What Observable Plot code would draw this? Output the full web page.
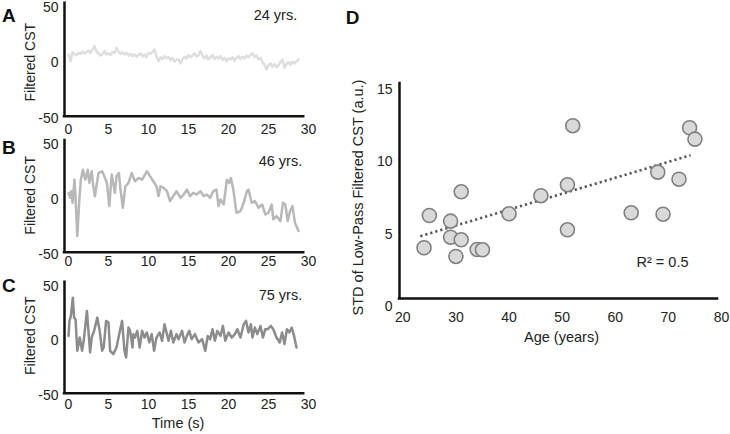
<!DOCTYPE html>
<html><head><meta charset="utf-8">
<script src="https://cdn.jsdelivr.net/npm/d3@7"></script>
<script src="https://cdn.jsdelivr.net/npm/@observablehq/plot@0.6"></script>
<style>
html,body{margin:0;padding:0;background:#fff;}
#fig{position:relative;width:730px;height:434px;overflow:hidden;font-family:"Liberation Sans",Arial,sans-serif;}
#fig svg{position:absolute;overflow:visible;}
</style></head><body><div id="fig"></div>
<script>
// ---------- Panel A-C: filtered CST time series ----------
const timeTicks = [0, 5, 10, 15, 20, 25, 30];
const cstTicks = [-50, 0, 50];
const timeDomain = [-0.5, 29.4];
const cstDomain = [-47.8, 53.5];

// A: 24 yrs (sampled every 0.25 s)
const stepA = 0.25;
const cstA = [7.5,1.5,9.5,8.0,7.0,9.0,8.0,10.0,8.5,9.5,11.0,9.0,12.0,15.0,10.0,8.5,6.5,8.0,10.5,7.5,
  8.5,7.0,9.5,9.0,13.5,10.0,8.0,9.5,7.5,9.0,6.5,8.0,6.0,7.5,5.5,7.0,8.5,6.0,7.5,5.0,
  9.0,8.0,10.0,12.0,6.0,1.5,5.0,3.5,6.0,4.0,5.5,2.5,4.5,1.0,3.0,3.0,-0.5,3.5,5.5,4.0,
  7.0,5.0,6.5,8.5,6.0,7.0,10.5,6.5,4.0,6.5,3.0,5.0,7.0,3.5,5.5,4.0,6.0,2.5,4.5,1.5,
  4.0,3.0,5.0,2.0,4.5,6.0,3.5,5.5,4.0,6.5,5.0,7.0,8.5,5.5,6.5,3.0,4.5,0.5,-1.5,-6.0,
  -2.0,-0.5,-3.5,-1.0,-4.0,-2.0,1.0,3.0,-4.5,-1.0,0.5,-1.5,1.0,-0.5,1.5,3.0];
const timeA = cstA.map((_, i) => i * stepA);

// B: 46 yrs
const timeB = [0,0.2,0.33,0.5,0.75,0.85,1.1,1.33,1.54,1.8,2.1,2.4,2.6,2.9,3.1,3.3,3.75,4.2,4.4,4.8,
  5.1,5.4,5.8,6.0,6.3,6.5,6.8,7.1,7.5,7.9,8.3,8.75,9.2,9.8,10.2,10.6,11.0,11.25,11.5,11.9,
  12.3,12.7,13.1,13.5,14.0,14.4,14.8,15.2,15.6,16.0,16.5,16.9,17.3,17.7,18.1,18.5,18.75,19.0,19.4,19.8,
  20.1,20.3,20.6,21.0,21.5,21.9,22.3,22.5,22.9,23.3,23.75,24.2,24.6,25.0,25.4,25.6,26.0,26.5,26.8,27.1,
  27.4,27.7,28.0,28.3,28.75];
const cstB = [6,1.5,7.5,-3,18,6,-33,-3,18,27,18,27,15,25.6,12,3,24,25.6,22.6,15,
  -6,22.6,6,21,24,9,-7.5,12,15,24,16.5,19.5,18,25.6,21,16.5,12,3,12,10.5,
  7.5,-1.5,3,7.5,1.5,4.5,9,3,6,4.5,7.5,3,4.5,1.5,7.5,9,-6,0,-4.5,18,
  15,19.5,9,-12,-10.5,-3,7.5,9,-3,-1.5,-7.5,-4.5,-13.6,-12,-4.5,-18,-15,-19.6,-3,-4.5,
  -19.6,-10.5,-6,-21,-28.6];

// C: 75 yrs
const timeC = [0,0.12,0.3,0.54,0.7,0.88,1.1,1.4,1.7,1.9,2.3,2.7,2.9,3.2,3.6,3.9,4.2,4.4,4.7,5.0,
  5.2,5.6,6.0,6.25,6.7,7.0,7.2,7.5,7.7,8.0,8.1,8.3,8.6,8.9,9.2,9.5,9.8,10.1,10.4,10.7,
  11.0,11.4,11.7,12.0,12.2,12.5,12.8,13.1,13.5,13.75,14.2,14.5,14.8,15.1,15.4,15.8,16.25,16.7,17.1,17.4,
  17.7,18.0,18.3,18.6,19.0,19.3,19.6,20.0,20.4,20.8,21.1,21.5,21.9,22.2,22.5,22.8,23.0,23.3,23.6,24.0,
  24.3,24.6,24.9,25.3,25.6,26.0,26.4,26.7,27.0,27.3,27.6,27.9,28.2,28.5];
const cstC = [4.5,18.2,22.7,39.4,21.2,19.7,-9.1,3,-9.1,0,27.3,-10.6,3,9.1,21.2,9.1,-9.1,-6.1,18.2,16.7,
  -9.1,-12.1,-6.1,3,18.2,-9.1,-15.2,12.1,9.1,-6.1,6.1,3,9.1,-6.1,9.1,3,7.6,-1.5,6.1,-9.1,
  3,7.6,0,15.2,9.1,0,9.1,-1.5,6.1,1.5,9.1,-1.5,4.5,9.1,1.5,6.1,-1.5,1.5,-9.1,4.5,
  1.5,10.6,0,9.1,4.5,13.6,0,7.6,3,6.1,10.6,3,15.2,18.2,7.6,15.2,3,12.1,6.1,13.6,
  3,10.6,10.6,13.6,10.6,3,-1.5,7.6,-3,10.6,7.6,12.1,4.5,-6.1];

// ---------- Panel D: scatter ----------
const ages = [24,25,29,29,30,31,31,34,35,40,46,51,51,63,69,72,68,52,74,75];
const stdValues = [4.06,6.29,5.90,4.79,3.46,4.61,7.93,3.94,3.92,6.41,7.66,8.42,5.30,6.48,6.38,8.80,9.29,12.50,12.36,11.57];
const fitAges = [23.3, 74.2];
const fitStd = [4.86, 10.46];
const ageTicks = [20, 30, 40, 50, 60, 70, 80];
const stdTicks = [0, 5, 10, 15];
const ageDomain = [19.38, 79.25];
const stdDomain = [0.55, 15.42];

const FONT = "Liberation Sans, Arial, sans-serif";
const fig = document.getElementById("fig");
const fmt = d => String(d);

function place(svg, left, top) {
  svg.style.left = left + "px";
  svg.style.top = top + "px";
  fig.appendChild(svg);
}

function label(str, opts) {
  return Plot.text([str], {text: d => d, textAnchor: "middle", lineAnchor: "middle", fill: "#222", ...opts});
}

function tracePanel(o) {
  const data = o.t.map((t, i) => ({t, v: o.v[i]}));
  return Plot.plot({
    width: 320, height: o.height,
    marginLeft: 64, marginRight: 16.8, marginTop: o.mt, marginBottom: o.mb,
    style: {fontFamily: FONT, fontSize: "14px", color: "#222", background: "transparent", overflow: "visible"},
    x: {domain: timeDomain, label: null},
    y: {domain: cstDomain, label: null},
    marks: [
      Plot.line(data, {x: "t", y: "v", stroke: o.color, strokeWidth: 2.5, strokeLinejoin: "round"}),
      Plot.ruleX([timeDomain[0]], {stroke: "#111", strokeWidth: 2.5, strokeLinecap: "square"}),
      Plot.ruleY([cstDomain[0]], {stroke: "#111", strokeWidth: 2.5, strokeLinecap: "square"}),
      Plot.axisX({ticks: timeTicks, tickSize: 0, tickPadding: o.xpad, tickFormat: fmt, label: null, fontSize: 14}),
      Plot.axisY({ticks: cstTicks, tickSize: 0, tickPadding: 6, tickFormat: fmt, label: null, fontSize: 14}),
      label(o.letter, {frameAnchor: "top-left", dx: -55.7, dy: o.letterDy, fontWeight: "bold", fontSize: 19, fill: "#111"}),
      label(o.age, {frameAnchor: "top-right", textAnchor: "end", dx: o.ageDx, dy: o.ageDy, fontSize: 14.5}),
      label("Filtered CST", {frameAnchor: "left", rotate: -90, dx: -34, dy: o.labDy, fontSize: 14}),
      ...(o.xTitle ? [label(o.xTitle, {frameAnchor: "bottom", dx: -6, dy: 30, fontSize: 14.5})] : [])
    ]
  });
}

place(tracePanel({t: timeA, v: cstA, color: "#dedede", height: 136, mt: 2.7, mb: 20.3, xpad: 8,
  letter: "A", letterDy: 13.1, age: "24 yrs.", ageDx: -6.5, ageDy: 12.3, labDy: 2.5}), 0, 0);
place(tracePanel({t: timeB, v: cstB, color: "#b8b8b8", height: 134, mt: 4, mb: 18.3, xpad: 4,
  letter: "B", letterDy: 7.5, age: "46 yrs.", ageDx: -1.5, ageDy: 20.8, labDy: -1}), 0, 136);
place(tracePanel({t: timeC, v: cstC, color: "#8c8c8c", height: 164, mt: 11.7, mb: 41.3, xpad: 6,
  letter: "C", letterDy: 4, age: "75 yrs.", ageDx: -1.5, ageDy: 13.3, labDy: -2, xTitle: "Time (s)"}), 0, 270);

// Panel D
const pts = ages.map((a, i) => ({age: a, std: stdValues[i]}));
const fit = fitAges.map((a, i) => ({age: a, std: fitStd[i]}));
const plotD = Plot.plot({
  width: 400, height: 360,
  marginLeft: 69, marginRight: 13, marginTop: 83, marginBottom: 62,
  style: {fontFamily: FONT, fontSize: "14px", color: "#222", background: "transparent", overflow: "visible"},
  x: {domain: ageDomain, label: null},
  y: {domain: stdDomain, label: null},
  marks: [
    Plot.line(fit, {x: "age", y: "std", stroke: "#555", strokeWidth: 2.6, strokeDasharray: "2.2,3", strokeLinecap: "butt"}),
    Plot.dot(pts, {x: "age", y: "std", r: 7, fill: "#d9d9d9", stroke: "#808080", strokeWidth: 1.6}),
    Plot.ruleX([ageDomain[0]], {stroke: "#111", strokeWidth: 2.5, strokeLinecap: "square"}),
    Plot.ruleY([stdDomain[0]], {stroke: "#111", strokeWidth: 2.5, strokeLinecap: "square"}),
    Plot.axisX({ticks: ageTicks, tickSize: 0, tickPadding: 14, tickFormat: fmt, label: null, fontSize: 14}),
    Plot.axisY({ticks: stdTicks, tickSize: 0, tickPadding: 7, tickFormat: fmt, label: null, fontSize: 14}),
    label("D", {frameAnchor: "top-left", dx: -47, dy: -66, fontWeight: "bold", fontSize: 19, fill: "#111"}),
    label("STD of Low-Pass Filtered CST (a.u.)", {frameAnchor: "left", rotate: -90, dx: -41, dy: 6.5, fontSize: 14.5}),
    label("Age (years)", {frameAnchor: "bottom", dx: 3, dy: 39, fontSize: 14.5}),
    label("R\u00b2 = 0.5", {frameAnchor: "bottom-right", dx: -55, dy: -36.3, fontSize: 14.5})
  ]
});
place(plotD, 330, 0);
</script></body></html>
